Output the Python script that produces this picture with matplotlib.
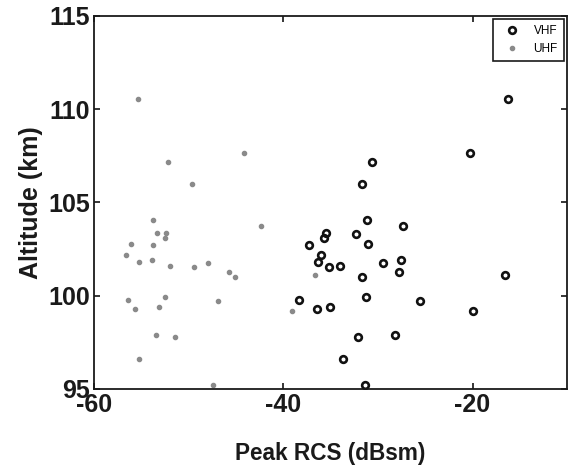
import matplotlib
matplotlib.use("Agg")
import matplotlib.pyplot as plt

plt.rcParams['font.family'] = ['Liberation Sans', 'DejaVu Sans']
plt.rcParams['axes.unicode_minus'] = False

# VHF peak RCS (dBsm) and altitude (km)
vhf_rcs = [-16.2, -20.3, -30.6, -31.7, -31.2, -27.3, -35.5, -35.7, -32.3, -37.3,
           -31.1, -36.0, -36.3, -35.2, -34.0, -29.5, -27.6, -27.8, -31.7, -16.6,
           -38.3, -31.3, -25.6, -36.4, -35.1, -20.0, -32.1, -28.2, -33.7, -31.4]
vhf_alt = [110.52, 107.66, 107.17, 105.99, 104.08, 103.72, 103.35, 103.10, 103.33, 102.74,
           102.79, 102.17, 101.81, 101.54, 101.59, 101.75, 101.93, 101.29, 100.99, 101.11,
           99.75, 99.91, 99.70, 99.29, 99.39, 99.16, 97.77, 97.89, 96.63, 95.23]

# UHF peak RCS (dBsm) and altitude (km)
uhf_rcs = [-55.4, -44.2, -52.2, -49.6, -53.8, -42.4, -53.3, -52.4, -52.5, -56.1,
           -53.8, -56.6, -53.9, -55.2, -52.0, -49.4, -48.0, -45.7, -45.1, -56.4,
           -52.5, -46.9, -55.7, -53.1, -53.5, -51.4, -55.2, -47.4, -39.1, -36.7]
uhf_alt = [110.52, 107.66, 107.17, 105.99, 104.08, 103.72, 103.35, 103.35, 103.10, 102.79,
           102.74, 102.17, 101.93, 101.81, 101.59, 101.54, 101.75, 101.29, 100.99, 99.75,
           99.91, 99.70, 99.29, 99.39, 97.89, 97.77, 96.63, 95.23, 99.16, 101.11]

x_ticks = [-60, -40, -20]
y_ticks = [95, 100, 105, 110, 115]

fig = plt.figure(figsize=(5.7, 4.68), dpi=100)
ax = fig.add_axes([0.165, 0.169, 0.83, 0.797])

ax.plot(vhf_rcs, vhf_alt, 'o', markerfacecolor='none', markeredgecolor='#111111',
        markeredgewidth=1.9, markersize=4.8, linestyle='none', label='VHF')
ax.plot(uhf_rcs, uhf_alt, 'o', color='#8a8a8a', markersize=3.0,
        linestyle='none', label='UHF')

ax.set_xlim(-60, -10)
ax.set_ylim(95, 115)
ax.set_xticks(x_ticks)
ax.set_yticks(y_ticks)
ax.tick_params(direction='in', top=True, right=True, length=4, width=1.1,
               labelsize=18, pad=3)
for lab in ax.get_xticklabels() + ax.get_yticklabels():
    lab.set_fontweight('bold')
    lab.set_color('#1a1a1a')
for s in ax.spines.values():
    s.set_linewidth(1.3)
    s.set_color('#1a1a1a')

ax.set_xlabel('Peak RCS (dBsm)', fontsize=16.3, fontweight='bold', labelpad=18,
              color='#1a1a1a')
ax.set_ylabel('Altitude (km)', fontsize=18, fontweight='bold', labelpad=4,
              color='#1a1a1a')

leg = ax.legend(loc='upper right', fontsize=8.5, frameon=True, fancybox=False,
                edgecolor='#1a1a1a', framealpha=1, borderaxespad=0.3,
                handletextpad=0.7, handlelength=2.2, borderpad=0.5,
                labelspacing=0.5)
leg.get_frame().set_linewidth(1.2)

fig.savefig('out.png', dpi=100)
